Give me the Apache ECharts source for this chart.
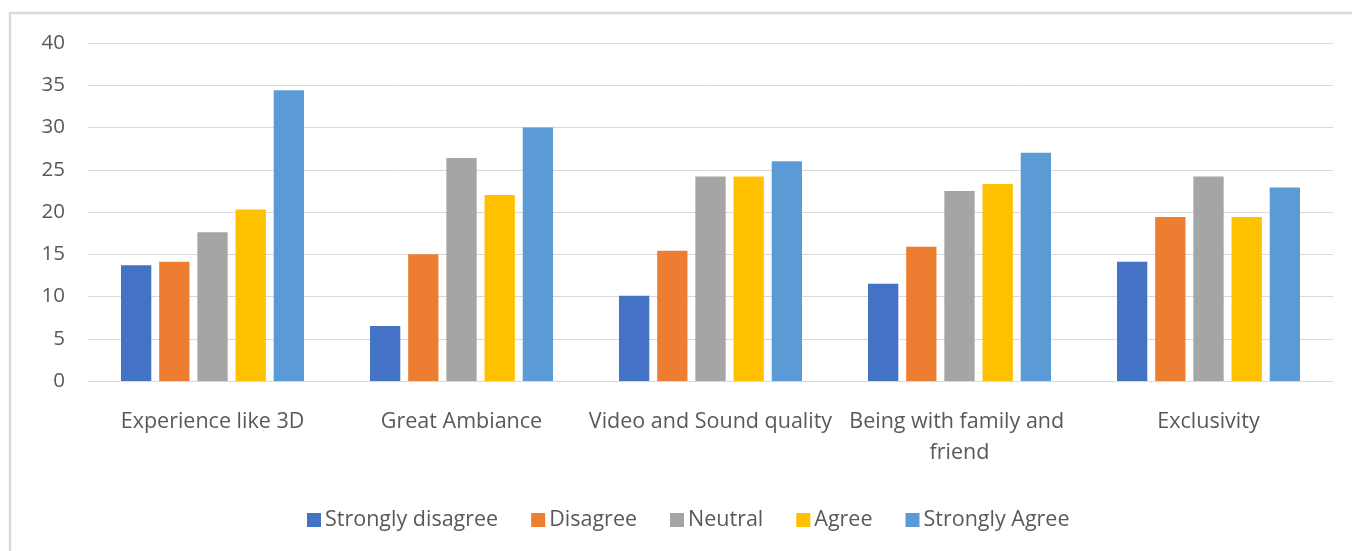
<!DOCTYPE html>
<html>
<head>
<meta charset="utf-8">
<script src="https://cdn.jsdelivr.net/npm/echarts@6/dist/echarts.min.js"></script>
<style>
  html, body { margin: 0; padding: 0; background: #ffffff; }
  #chart { width: 1352px; height: 551px; }
</style>
</head>
<body>
<div id="chart"></div>
<script>
// Survey responses per cinema attribute
const categories = ['Experience like 3D', 'Great Ambiance', 'Video and Sound quality', 'Being with family and friend', 'Exclusivity'];
const seriesNames = ['Strongly disagree', 'Disagree', 'Neutral', 'Agree', 'Strongly Agree'];
const stronglyDisagree = [13.7, 6.5, 10.1, 11.5, 14.1];
const disagree = [14.1, 15.0, 15.4, 15.9, 19.4];
const neutral = [17.6, 26.4, 24.2, 22.5, 24.2];
const agree = [20.3, 22.0, 24.2, 23.3, 19.4];
const stronglyAgree = [34.4, 30.0, 26.0, 27.0, 22.9];
const yTicks = [0, 5, 10, 15, 20, 25, 30, 35, 40];

const seriesValues = [stronglyDisagree, disagree, neutral, agree, stronglyAgree];
const colors = ['#4472C4', '#ED7D31', '#A5A5A5', '#FFC000', '#5B9BD5'];
const fontFamily = '"Open Sans", "Noto Sans", sans-serif';
const textColor = '#595959';

const chart = echarts.init(document.getElementById('chart'), null, { renderer: 'canvas' });

chart.setOption({
  animation: false,
  color: colors,
  textStyle: { fontFamily: fontFamily },
  graphic: [{
    type: 'rect',
    shape: { x: 10, y: 13, width: 1400, height: 600 },
    style: { fill: 'none', stroke: '#d9d9d9', lineWidth: 2.5 },
    silent: true,
    z: -10
  }],
  grid: { left: 88, right: 19, top: 43, bottom: 170, containLabel: false },
  legend: {
    data: seriesNames,
    bottom: 15,
    left: 302,
    itemWidth: 14,
    itemHeight: 14,
    itemGap: 33,
    icon: 'rect',
    textStyle: { color: textColor, fontSize: 21.5, fontFamily: fontFamily, padding: [0, 0, 0, -1] }
  },
  xAxis: {
    type: 'category',
    data: categories,
    axisLine: { show: true, lineStyle: { color: '#d9d9d9', width: 1 } },
    axisTick: { show: false },
    axisLabel: {
      color: textColor,
      fontSize: 21.5,
      fontFamily: fontFamily,
      margin: 25,
      lineHeight: 31,
      width: 249,
      overflow: 'break',
      interval: 0
    }
  },
  yAxis: {
    type: 'value',
    min: yTicks[0],
    max: yTicks[yTicks.length - 1],
    interval: yTicks[1] - yTicks[0],
    axisLine: { show: false },
    axisTick: { show: false },
    axisLabel: { color: textColor, fontSize: 20.5, fontFamily: fontFamily, margin: 23 },
    splitLine: { lineStyle: { color: '#d9d9d9', width: 1 } }
  },
  series: seriesNames.map((name, i) => ({
    name: name,
    type: 'bar',
    data: seriesValues[i],
    barGap: '26%',
    barCategoryGap: '26.5%',
    itemStyle: { color: colors[i] }
  }))
});
</script>
</body>
</html>
